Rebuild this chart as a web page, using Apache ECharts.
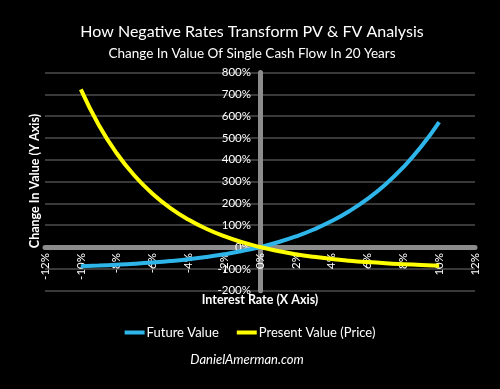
<!DOCTYPE html>
<html>
<head>
<meta charset="utf-8">
<script src="https://cdn.jsdelivr.net/npm/echarts@6/dist/echarts.min.js"></script>
<style>
html,body{margin:0;padding:0;background:#000;}
#chart{width:500px;height:389px;}
</style>
</head>
<body>
<div id="chart"></div>
<script>
// Interest rate (%) for each point
var rates = [-10,-9,-8,-7,-6,-5,-4,-3,-2,-1,0,1,2,3,4,5,6,7,8,9,10];
// Future Value change (%) after 20 years
var futureValue = [-87.8,-84.8,-81.1,-76.6,-71.0,-64.2,-55.8,-45.6,-33.2,-18.2,0,22.0,48.6,80.6,119.1,165.3,220.7,287.0,366.1,460.4,572.7];
// Present Value change (%) after 20 years
var presentValue = [722.5,559.6,429.9,327.0,244.7,178.9,126.2,83.9,49.8,22.3,0,-18.0,-32.7,-44.6,-54.4,-62.3,-68.8,-74.2,-78.5,-82.2,-85.1];
var seriesNames = ['Future Value','Present Value (Price)'];
var titleText = 'How Negative Rates Transform PV & FV Analysis';
var subtitleText = 'Change In Value Of Single Cash Flow In 20 Years';
var xAxisName = 'Interest Rate (X Axis)';
var yAxisName = 'Change In Value (Y Axis)';
var footerText = 'DanielAmerman.com';

function pairs(vals){ return rates.map(function(r,i){ return [r, vals[i]]; }); }

var FONT = 'Lato, "Open Sans", sans-serif';
var GL = 45, GR = 25, GT = 72.5, GB = 98.3, W = 500, H = 389;
var gw = W - GL - GR, gh = H - GT - GB;
var xMin = -12, xMax = 12, yMin = -200, yMax = 800;
// shift axes so they cross at the origin (labels follow the line)
var yOffset = -gw * (0 - xMin) / (xMax - xMin);
var xOffset = -gh * (0 - yMin) / (yMax - yMin);

var chart = echarts.init(document.getElementById('chart'), null, {renderer:'canvas'});
chart.setOption({
  backgroundColor:'#000',
  animation:false,
  title:[
    {text:titleText, left:247, top:17, textAlign:'center',
     textStyle:{color:'#fff', fontFamily:FONT, fontSize:16, fontWeight:'normal', lineHeight:20}},
    {text:subtitleText, left:247, top:40, textAlign:'center',
     textStyle:{color:'#fff', fontFamily:FONT, fontSize:13.5, fontWeight:'normal', lineHeight:18}}
  ],
  legend:{
    data:seriesNames, left:'center', top:321, itemWidth:20, itemHeight:4, itemGap:18,
    icon:'rect',
    textStyle:{color:'#fff', fontFamily:FONT, fontSize:13, padding:[0,0,0,-3]}
  },
  grid:{left:GL, right:GR, top:GT, bottom:GB},
  xAxis:{
    type:'value', min:xMin, max:xMax, interval:2, position:'bottom', offset:xOffset,
    axisLine:{show:true, onZero:false, lineStyle:{color:'#8c8c8c', width:5}},
    axisTick:{show:false},
    splitLine:{show:false},
    axisLabel:{formatter:'{value}%', rotate:90, color:'#fff', fontFamily:FONT, fontSize:11.5, margin:6}
  },
  yAxis:{
    type:'value', min:yMin, max:yMax, interval:100, position:'left', offset:yOffset,
    axisLine:{show:true, onZero:false, lineStyle:{color:'#8c8c8c', width:5}},
    axisTick:{show:false},
    splitLine:{show:true, lineStyle:{color:'#4d4d4d', width:1.5}},
    axisLabel:{formatter:'{value}%', color:'#fff', fontFamily:FONT, fontSize:11.5, margin:9}
  },
  graphic:[
    {type:'text', x:35, y:181, rotation:Math.PI/2,
     style:{text:yAxisName, fill:'#fff', font:'bold 12.5px '+FONT, textAlign:'center', textVerticalAlign:'middle'}},
    {type:'text', x:260, y:300, style:{text:xAxisName, fill:'#fff', font:'bold 12.5px '+FONT, textAlign:'center', textVerticalAlign:'middle'}},
    {type:'text', x:247, y:360, style:{text:footerText, fill:'#fff', font:'italic 13px '+FONT, textAlign:'center', textVerticalAlign:'middle'}}
  ],
  series:[
    {name:seriesNames[0], type:'line', data:pairs(futureValue), smooth:true, showSymbol:false,
     lineStyle:{color:'#2eb6ea', width:4}, itemStyle:{color:'#2eb6ea'}},
    {name:seriesNames[1], type:'line', data:pairs(presentValue), smooth:true, showSymbol:false,
     lineStyle:{color:'#ffff00', width:4}, itemStyle:{color:'#ffff00'}}
  ]
});
</script>
</body>
</html>
